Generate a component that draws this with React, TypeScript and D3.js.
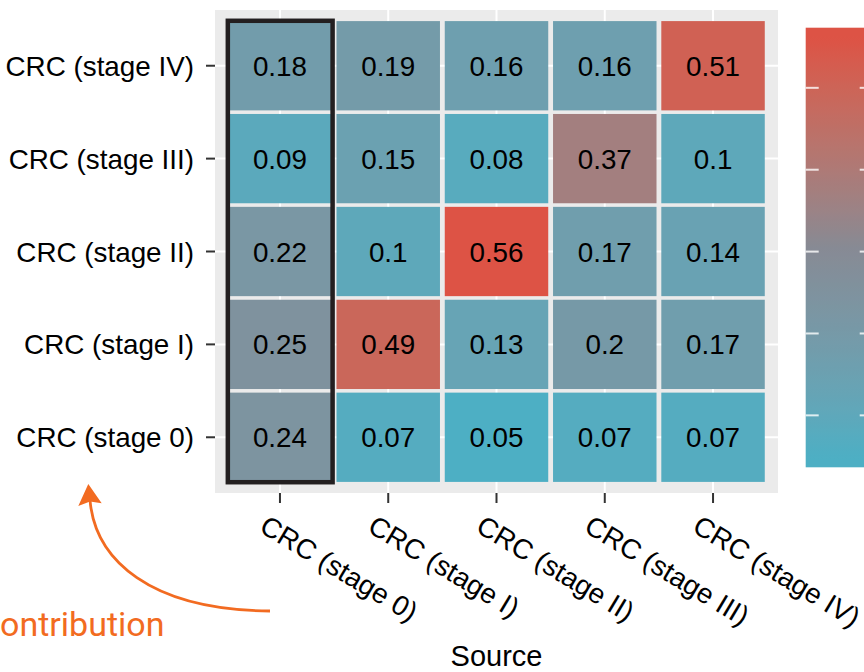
import React from "react";
import * as d3 from "d3";

// Stage labels: sources along x, targets along y (top to bottom)
const sources = ["CRC (stage 0)", "CRC (stage I)", "CRC (stage II)", "CRC (stage III)", "CRC (stage IV)"];
const targets = ["CRC (stage IV)", "CRC (stage III)", "CRC (stage II)", "CRC (stage I)", "CRC (stage 0)"];

// Contribution of each source (columns) to each target row
const rowStageIV = [0.18, 0.19, 0.16, 0.16, 0.51];
const rowStageIII = [0.09, 0.15, 0.08, 0.37, 0.1];
const rowStageII = [0.22, 0.1, 0.56, 0.17, 0.14];
const rowStageI = [0.25, 0.49, 0.13, 0.2, 0.17];
const rowStage0 = [0.24, 0.07, 0.05, 0.07, 0.07];
const rows = [rowStageIV, rowStageIII, rowStageII, rowStageI, rowStage0];

const legendTicks = [0.1, 0.2, 0.3, 0.4, 0.5];
const highlightedSource = "CRC (stage 0)";

const W = 864;
const H = 672;
const panel = { left: 215, right: 778, top: 10, bottom: 493 };
const font = "'Liberation Sans', Arial, Helvetica, sans-serif";
const orange = "#F26B21";
const fs = 27.8;

export default function App() {
  const cells = rows.flatMap((vals, i) =>
    vals.map((v, j) => ({ target: targets[i], source: sources[j], value: v }))
  );
  const extent = d3.extent(cells, (d) => d.value) as [number, number];
  const mid = (extent[0] + extent[1]) / 2;

  const x = d3.scalePoint<string>().domain(sources).range([panel.left, panel.right]).padding(0.6);
  const y = d3.scalePoint<string>().domain(targets).range([panel.top, panel.bottom]).padding(0.6);
  const sx = x.step();
  const sy = y.step();
  const tileW = sx - 4.8;
  const tileH = sy - 3.6;

  // diverging fill: cyan -> neutral grey -> red
  const color = d3
    .scaleLinear<string>()
    .domain([extent[0], mid, extent[1]])
    .range(["#4DAFC4", "#878A94", "#DD5345"])
    .interpolate(d3.interpolateLab)
    .clamp(true);

  // colour bar geometry
  const bar = { x: 805.7, top: 27.7, bottom: 467.3, width: 67 };
  const barY = d3.scaleLinear().domain(extent).range([bar.bottom - 11, bar.top + 11]);
  const stops = d3.range(0, 61).map((k) => {
    const py = bar.top + ((bar.bottom - bar.top) * k) / 60;
    return { offset: k / 60, c: color(barY.invert(py)) };
  });

  const hx = x(highlightedSource)!;

  return (
    <svg
      width={W}
      height={H}
      style={{ position: "absolute", left: 0, top: 0, background: "#fff" }}
      fontFamily={font}
    >
      <defs>
        <linearGradient id="legendGrad" x1="0" y1="0" x2="0" y2="1">
          {stops.map((s, k) => (
            <stop key={k} offset={s.offset} stopColor={s.c} />
          ))}
        </linearGradient>
      </defs>

      {/* panel background and grid */}
      <rect
        x={panel.left}
        y={panel.top}
        width={panel.right - panel.left}
        height={panel.bottom - panel.top}
        fill="#EBEBEB"
      />
      {sources.map((s) => (
        <line key={s} x1={x(s)} x2={x(s)} y1={panel.top} y2={panel.bottom} stroke="#fff" strokeWidth={2} />
      ))}
      {targets.map((t) => (
        <line key={t} y1={y(t)} y2={y(t)} x1={panel.left} x2={panel.right} stroke="#fff" strokeWidth={2} />
      ))}

      {/* tiles */}
      {cells.map((d) => (
        <g key={d.target + d.source}>
          <rect
            x={x(d.source)! - tileW / 2}
            y={y(d.target)! - tileH / 2}
            width={tileW}
            height={tileH}
            fill={color(d.value)}
          />
          <text
            x={x(d.source)}
            y={y(d.target)}
            dy="0.36em"
            textAnchor="middle"
            fontSize={fs}
            fill="#000"
          >
            {String(d.value)}
          </text>
        </g>
      ))}

      {/* highlighted source column */}
      <rect
        x={hx - sx / 2 + 2}
        y={panel.top + 0.6 * sy - sy / 2 + 1.5}
        width={sx - 3.5}
        height={sy * 5 - 3}
        fill="none"
        stroke="#231F20"
        strokeWidth={4.5}
      />

      {/* y axis */}
      {targets.map((t) => (
        <g key={t}>
          <line x1={206} x2={panel.left} y1={y(t)} y2={y(t)} stroke="#333" strokeWidth={2} />
          <text x={194} y={y(t)} dy="0.36em" textAnchor="end" fontSize={fs} fill="#000">
            {t}
          </text>
        </g>
      ))}

      {/* x axis */}
      {sources.map((s) => (
        <g key={s}>
          <line x1={x(s)} x2={x(s)} y1={panel.bottom} y2={panel.bottom + 10} stroke="#333" strokeWidth={2} />
          <text
            transform={`translate(${x(s)! - 22},${panel.bottom + 38}) rotate(31)`}
            textAnchor="start"
            fontSize={fs}
            fill="#000"
          >
            {s}
          </text>
        </g>
      ))}
      <text x={(panel.left + panel.right) / 2} y={666} textAnchor="middle" fontSize={29} fill="#000">
        Source
      </text>

      {/* colour bar */}
      <rect x={bar.x} y={bar.top} width={bar.width} height={bar.bottom - bar.top} fill="url(#legendGrad)" />
      {legendTicks.map((t) => (
        <g key={t} stroke="#fff" strokeOpacity={0.8} strokeWidth={2}>
          <line x1={bar.x} x2={bar.x + 13} y1={barY(t)} y2={barY(t)} />
          <line x1={bar.x + bar.width - 13} x2={bar.x + bar.width} y1={barY(t)} y2={barY(t)} />
        </g>
      ))}

      {/* annotation */}
      <path
        d="M270,611 C150,610 95,560 90,500"
        fill="none"
        stroke={orange}
        strokeWidth={2.8}
      />
      <path d="M88.3,484 L78.3,506 L90,501.5 L101.7,503.3 Z" fill={orange} />
      <text x={0} y={636} textAnchor="start" fontSize={34} fill={orange} fontFamily="Roboto, sans-serif">
        ontribution
      </text>
    </svg>
  );
}
